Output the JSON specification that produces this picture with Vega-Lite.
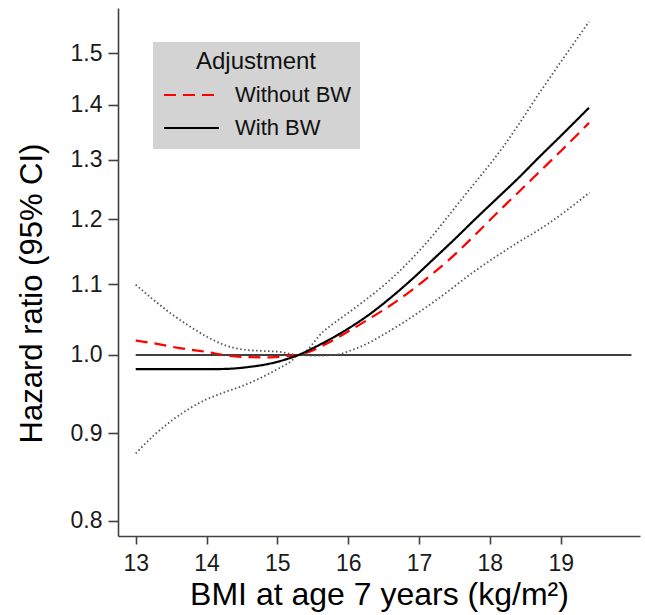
{
  "$schema": "https://vega.github.io/schema/vega-lite/v6.json",
  "width": 522,
  "height": 528,
  "autosize": {"type": "none"},
  "padding": {"left": 118, "top": 8, "right": 5, "bottom": 79},
  "config": {
    "view": {"stroke": null},
    "font": "Liberation Sans",
    "axis": {
      "grid": false,
      "domainColor": "#404040",
      "domainWidth": 1.6,
      "tickColor": "#404040",
      "tickWidth": 1.6,
      "labelColor": "#1a1a1a",
      "titleColor": "#000000",
      "titleFontWeight": "normal",
      "labelFont": "Liberation Sans",
      "titleFont": "Liberation Sans"
    }
  },
  "datasets": {
    "ref": [
      {"bmi": 13, "hr": 1.0},
      {"bmi": 20, "hr": 1.0}
    ],
    "ci": [
      {"bound": "upper", "bmi": 13.0, "hr": 1.099},
      {"bound": "upper", "bmi": 13.25, "hr": 1.077},
      {"bound": "upper", "bmi": 13.5, "hr": 1.057},
      {"bound": "upper", "bmi": 13.75, "hr": 1.04},
      {"bound": "upper", "bmi": 14.0, "hr": 1.025},
      {"bound": "upper", "bmi": 14.25, "hr": 1.0135},
      {"bound": "upper", "bmi": 14.5, "hr": 1.0075},
      {"bound": "upper", "bmi": 14.75, "hr": 1.0055},
      {"bound": "upper", "bmi": 15.0, "hr": 1.0045},
      {"bound": "upper", "bmi": 15.3, "hr": 1.0},
      {"bound": "upper", "bmi": 15.65, "hr": 1.032},
      {"bound": "upper", "bmi": 16.12, "hr": 1.067},
      {"bound": "upper", "bmi": 16.59, "hr": 1.106},
      {"bound": "upper", "bmi": 17.06, "hr": 1.157},
      {"bound": "upper", "bmi": 17.63, "hr": 1.237},
      {"bound": "upper", "bmi": 18.19, "hr": 1.323},
      {"bound": "upper", "bmi": 18.76, "hr": 1.434},
      {"bound": "upper", "bmi": 19.4, "hr": 1.565},
      {"bound": "lower", "bmi": 13.0, "hr": 0.876},
      {"bound": "lower", "bmi": 13.25, "hr": 0.897},
      {"bound": "lower", "bmi": 13.5, "hr": 0.915},
      {"bound": "lower", "bmi": 13.75, "hr": 0.93},
      {"bound": "lower", "bmi": 14.0, "hr": 0.942},
      {"bound": "lower", "bmi": 14.25, "hr": 0.951},
      {"bound": "lower", "bmi": 14.5, "hr": 0.959},
      {"bound": "lower", "bmi": 14.75, "hr": 0.969},
      {"bound": "lower", "bmi": 15.0, "hr": 0.981},
      {"bound": "lower", "bmi": 15.2, "hr": 0.992},
      {"bound": "lower", "bmi": 15.3, "hr": 1.0},
      {"bound": "lower", "bmi": 15.5, "hr": 0.999},
      {"bound": "lower", "bmi": 15.8, "hr": 1.0},
      {"bound": "lower", "bmi": 16.12, "hr": 1.009},
      {"bound": "lower", "bmi": 16.69, "hr": 1.039},
      {"bound": "lower", "bmi": 17.25, "hr": 1.077},
      {"bound": "lower", "bmi": 17.81, "hr": 1.121},
      {"bound": "lower", "bmi": 18.38, "hr": 1.162},
      {"bound": "lower", "bmi": 18.76, "hr": 1.188},
      {"bound": "lower", "bmi": 19.41, "hr": 1.244}
    ],
    "curves": [
      {"Adjustment": "Without BW", "bmi": 13.0, "hr": 1.0195},
      {"Adjustment": "Without BW", "bmi": 13.3, "hr": 1.015},
      {"Adjustment": "Without BW", "bmi": 13.6, "hr": 1.0095},
      {"Adjustment": "Without BW", "bmi": 14.0, "hr": 1.004},
      {"Adjustment": "Without BW", "bmi": 14.3, "hr": 0.999},
      {"Adjustment": "Without BW", "bmi": 14.6, "hr": 0.997},
      {"Adjustment": "Without BW", "bmi": 14.9, "hr": 0.9968},
      {"Adjustment": "Without BW", "bmi": 15.15, "hr": 0.9985},
      {"Adjustment": "Without BW", "bmi": 15.3, "hr": 1.0},
      {"Adjustment": "Without BW", "bmi": 15.5, "hr": 1.006},
      {"Adjustment": "Without BW", "bmi": 15.7, "hr": 1.0155},
      {"Adjustment": "Without BW", "bmi": 16.0, "hr": 1.032},
      {"Adjustment": "Without BW", "bmi": 16.3, "hr": 1.05},
      {"Adjustment": "Without BW", "bmi": 16.6, "hr": 1.069},
      {"Adjustment": "Without BW", "bmi": 16.9, "hr": 1.091},
      {"Adjustment": "Without BW", "bmi": 17.2, "hr": 1.116},
      {"Adjustment": "Without BW", "bmi": 17.5, "hr": 1.144},
      {"Adjustment": "Without BW", "bmi": 17.8, "hr": 1.176},
      {"Adjustment": "Without BW", "bmi": 18.1, "hr": 1.21},
      {"Adjustment": "Without BW", "bmi": 18.4, "hr": 1.244},
      {"Adjustment": "Without BW", "bmi": 18.7, "hr": 1.279},
      {"Adjustment": "Without BW", "bmi": 19.0, "hr": 1.315},
      {"Adjustment": "Without BW", "bmi": 19.4, "hr": 1.366},
      {"Adjustment": "With BW", "bmi": 13.0, "hr": 0.981},
      {"Adjustment": "With BW", "bmi": 13.5, "hr": 0.981},
      {"Adjustment": "With BW", "bmi": 14.0, "hr": 0.981},
      {"Adjustment": "With BW", "bmi": 14.3, "hr": 0.9815},
      {"Adjustment": "With BW", "bmi": 14.6, "hr": 0.984},
      {"Adjustment": "With BW", "bmi": 14.9, "hr": 0.9885},
      {"Adjustment": "With BW", "bmi": 15.1, "hr": 0.9935},
      {"Adjustment": "With BW", "bmi": 15.3, "hr": 1.0},
      {"Adjustment": "With BW", "bmi": 15.5, "hr": 1.009},
      {"Adjustment": "With BW", "bmi": 15.7, "hr": 1.019},
      {"Adjustment": "With BW", "bmi": 16.0, "hr": 1.036},
      {"Adjustment": "With BW", "bmi": 16.3, "hr": 1.056},
      {"Adjustment": "With BW", "bmi": 16.6, "hr": 1.08},
      {"Adjustment": "With BW", "bmi": 16.9, "hr": 1.107},
      {"Adjustment": "With BW", "bmi": 17.2, "hr": 1.137},
      {"Adjustment": "With BW", "bmi": 17.5, "hr": 1.168},
      {"Adjustment": "With BW", "bmi": 17.8, "hr": 1.201},
      {"Adjustment": "With BW", "bmi": 18.1, "hr": 1.234},
      {"Adjustment": "With BW", "bmi": 18.4, "hr": 1.268},
      {"Adjustment": "With BW", "bmi": 18.7, "hr": 1.305},
      {"Adjustment": "With BW", "bmi": 19.0, "hr": 1.342},
      {"Adjustment": "With BW", "bmi": 19.4, "hr": 1.394}
    ]
  },
  "encoding": {
    "x": {
      "field": "bmi",
      "type": "quantitative",
      "scale": {"domain": [12.75, 20.12], "nice": false, "zero": false},
      "axis": {
        "values": [13, 14, 15, 16, 17, 18, 19],
        "title": "BMI at age 7 years (kg/m²)",
        "labelFontSize": 23,
        "titleFontSize": 32,
        "tickSize": 8,
        "labelPadding": 8,
        "titlePadding": 4,
        "labelFlush": false
      }
    },
    "y": {
      "field": "hr",
      "type": "quantitative",
      "scale": {"type": "log", "domain": [0.784, 1.594], "nice": false},
      "axis": {
        "values": [0.8, 0.9, 1.0, 1.1, 1.2, 1.3, 1.4, 1.5],
        "format": ".1f",
        "title": "Hazard ratio (95% CI)",
        "labelFontSize": 23,
        "titleFontSize": 31,
        "tickSize": 10,
        "labelPadding": 6,
        "titleX": -86,
        "titleY": 285,
        "titleAngle": -90,
        "titleAlign": "center",
        "titleBaseline": "middle",
        "labelFlush": false
      }
    }
  },
  "layer": [
    {
      "data": {"name": "ref"},
      "mark": {"type": "line", "color": "#404040", "strokeWidth": 2},
      "encoding": {}
    },
    {
      "data": {"name": "ci"},
      "mark": {"type": "line", "color": "#555555", "strokeWidth": 1.8, "strokeDash": [1.5, 2.5], "interpolate": "monotone"},
      "encoding": {"detail": {"field": "bound", "type": "nominal"}}
    },
    {
      "data": {"name": "curves"},
      "mark": {"type": "line", "strokeWidth": 2.2, "interpolate": "monotone"},
      "encoding": {
        "color": {
          "field": "Adjustment",
          "type": "nominal",
          "scale": {"domain": ["Without BW", "With BW"], "range": ["#ff0000", "#000000"]},
          "legend": {
            "title": "Adjustment",
            "orient": "none",
            "legendX": 35,
            "legendY": 34,
            "fillColor": "#d3d3d3",
            "padding": 8,
            "titleFontSize": 24,
            "titleFontWeight": "normal",
            "titleColor": "#111111",
            "titleAnchor": "middle",
            "titlePadding": 8,
            "labelFontSize": 22,
            "labelColor": "#111111",
            "symbolType": "stroke",
            "symbolSize": 3025,
            "symbolStrokeWidth": 2,
            "clipHeight": 26,
            "rowPadding": 7,
            "labelOffset": 15,
            "symbolOffset": 2
          }
        },
        "strokeDash": {
          "field": "Adjustment",
          "type": "nominal",
          "scale": {"domain": ["Without BW", "With BW"], "range": [[12, 7], [1, 0]]},
          "legend": {
            "title": "Adjustment",
            "orient": "none",
            "legendX": 35,
            "legendY": 34,
            "fillColor": "#d3d3d3",
            "padding": 8,
            "titleFontSize": 24,
            "titleFontWeight": "normal",
            "titleColor": "#111111",
            "titleAnchor": "middle",
            "titlePadding": 8,
            "labelFontSize": 22,
            "labelColor": "#111111",
            "symbolType": "stroke",
            "symbolSize": 3025,
            "symbolStrokeWidth": 2,
            "clipHeight": 26,
            "rowPadding": 7,
            "labelOffset": 15,
            "symbolOffset": 2
          }
        }
      }
    }
  ]
}
